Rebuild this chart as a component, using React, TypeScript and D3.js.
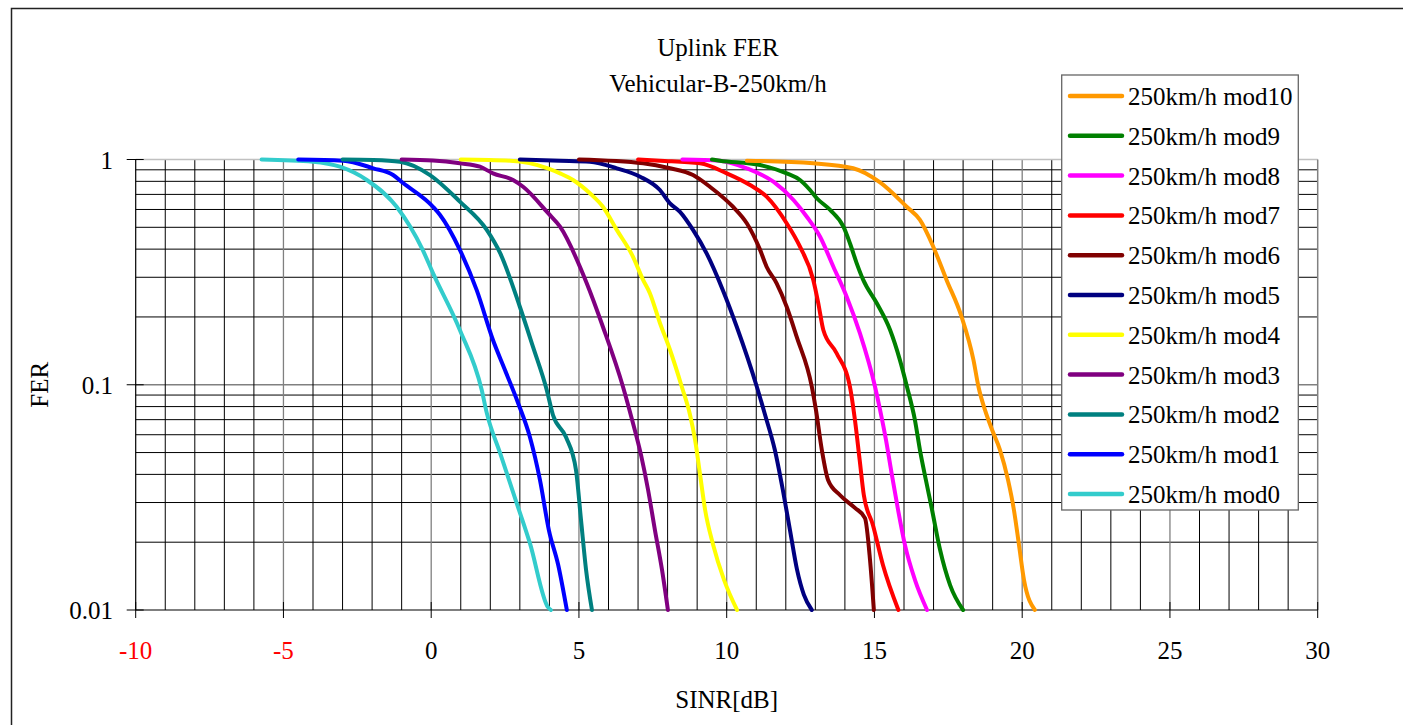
import React from 'react';
import * as d3 from 'd3';

const titleLines = ['Uplink FER', 'Vehicular-B-250km/h'];
const xTicks = [-10, -5, 0, 5, 10, 15, 20, 25, 30];
const yTicks = [1, 0.1, 0.01];

const seriesNames = [
  '250km/h mod10', '250km/h mod9', '250km/h mod8', '250km/h mod7', '250km/h mod6', '250km/h mod5',
  '250km/h mod4', '250km/h mod3', '250km/h mod2', '250km/h mod1', '250km/h mod0',
];
const seriesColors = [
  '#ff9900', '#008000', '#ff00ff', '#ff0000', '#800000', '#000080',
  '#ffff00', '#800080', '#008080', '#0000ff', '#33cccc',
];

// [SINR dB, FER] pairs
const mod0 = [[-5.74, 1], [-4.0, 0.978], [-3.09, 0.929], [-2.18, 0.811], [-1.17, 0.617], [-0.3, 0.4], [0.06, 0.313], [0.97, 0.175], [1.71, 0.0948], [1.88, 0.075], [2.33, 0.0498], [2.89, 0.0299], [3.34, 0.0198], [3.95, 0.0103], [4.05, 0.01]];
const mod1 = [[-4.5, 1], [-2.98, 0.988], [-1.96, 0.914], [-1.29, 0.853], [-0.95, 0.786], [0.06, 0.617], [0.3, 0.567], [0.97, 0.397], [1.54, 0.263], [2.09, 0.158], [2.5, 0.116], [2.94, 0.083], [3.34, 0.0586], [3.68, 0.0378], [3.98, 0.0227], [4.3, 0.0158], [4.59, 0.01]];
const mod2 = [[-3.0, 1], [-1.96, 0.995], [-1.06, 0.978], [-0.04, 0.853], [0.97, 0.65], [1.88, 0.487], [2.33, 0.385], [3.0, 0.222], [3.44, 0.148], [3.91, 0.0948], [4.12, 0.0734], [4.56, 0.0586], [4.9, 0.0418], [5.07, 0.0251], [5.24, 0.0151], [5.44, 0.01]];
const mod3 = [[-1.0, 1], [0.06, 0.99], [0.97, 0.962], [1.65, 0.929], [2.09, 0.868], [2.77, 0.811], [3.11, 0.757], [3.95, 0.579], [4.36, 0.503], [5.26, 0.283], [5.81, 0.181], [6.49, 0.098], [6.8, 0.0697], [7.1, 0.0488], [7.34, 0.0341], [7.57, 0.0227], [7.81, 0.0151], [8.01, 0.01]];
const mod4 = [[1.0, 1], [2.67, 0.988], [3.95, 0.914], [4.36, 0.868], [4.8, 0.811], [5.37, 0.708], [5.81, 0.617], [6.28, 0.487], [6.83, 0.37], [7.17, 0.292], [7.4, 0.255], [7.74, 0.188], [8.08, 0.143], [8.48, 0.098], [8.76, 0.0734], [8.93, 0.0569], [9.1, 0.0398], [9.27, 0.0278], [9.54, 0.0195], [9.91, 0.0136], [10.35, 0.01]];
const mod5 = [[3.0, 1], [4.36, 0.988], [5.37, 0.978], [6.28, 0.914], [7.07, 0.839], [7.74, 0.732], [8.08, 0.639], [8.42, 0.586], [8.86, 0.487], [9.32, 0.383], [9.87, 0.263], [10.34, 0.181], [11.02, 0.098], [11.3, 0.0734], [11.63, 0.0513], [11.9, 0.0341], [12.14, 0.0227], [12.38, 0.0151], [12.61, 0.0117], [12.88, 0.01]];
const mod6 = [[5.0, 1], [7.17, 0.962], [8.08, 0.914], [8.86, 0.853], [9.43, 0.757], [10.21, 0.617], [10.68, 0.521], [11.13, 0.397], [11.35, 0.334], [11.69, 0.282], [12.03, 0.222], [12.37, 0.163], [12.88, 0.098], [13.02, 0.0773], [13.22, 0.0513], [13.43, 0.0378], [13.83, 0.0324], [14.34, 0.0284], [14.68, 0.0256], [14.85, 0.0167], [14.98, 0.01]];
const mod7 = [[7.0, 1], [7.74, 0.988], [9.1, 0.962], [10.0, 0.868], [10.79, 0.77], [11.35, 0.684], [12.03, 0.521], [12.48, 0.41], [12.93, 0.292], [13.1, 0.23], [13.27, 0.175], [13.72, 0.138], [14.17, 0.098], [14.34, 0.0697], [14.5, 0.0463], [14.64, 0.0324], [14.95, 0.0238], [15.29, 0.0158], [15.81, 0.01]];
const mod8 = [[8.5, 1], [9.77, 0.988], [10.68, 0.914], [11.58, 0.797], [12.26, 0.661], [12.71, 0.557], [13.16, 0.454], [13.61, 0.334], [14.06, 0.246], [14.51, 0.169], [15.02, 0.098], [15.19, 0.0773], [15.39, 0.0569], [15.59, 0.0398], [15.8, 0.0278], [16.03, 0.0195], [16.37, 0.0136], [16.78, 0.01]];
const mod9 = [[9.5, 1], [9.77, 0.988], [11.13, 0.945], [12.03, 0.868], [12.48, 0.811], [12.82, 0.732], [13.05, 0.673], [13.5, 0.597], [13.95, 0.503], [14.17, 0.425], [14.4, 0.346], [14.62, 0.292], [15.08, 0.23], [15.53, 0.175], [15.86, 0.129], [16.1, 0.098], [16.37, 0.0697], [16.54, 0.0513], [16.74, 0.0378], [16.95, 0.0278], [17.22, 0.0185], [17.56, 0.0129], [18.0, 0.01]];
const mod10 = [[10.68, 0.988], [12.93, 0.962], [14.28, 0.914], [15.19, 0.791], [16.09, 0.617], [16.54, 0.539], [16.99, 0.41], [17.44, 0.292], [17.95, 0.2], [18.35, 0.129], [18.52, 0.098], [18.74, 0.0773], [18.98, 0.0631], [19.25, 0.0513], [19.52, 0.0378], [19.72, 0.0278], [19.89, 0.0195], [20.06, 0.0136], [20.43, 0.01]];

const seriesData = [mod10, mod9, mod8, mod7, mod6, mod5, mod4, mod3, mod2, mod1, mod0];

const W = 1403;
const H = 725;
const plot = { left: 135.7, right: 1317.7, top: 159.5, bottom: 610 };
const font = '"Liberation Serif", "Times New Roman", serif';
const fs = 25;

export default function App() {
  const x = d3.scaleLinear().domain([-10, 30]).range([plot.left, plot.right]);
  const y = d3.scaleLog().domain([0.01, 1]).range([plot.bottom, plot.top]);

  const line = d3.line<number[]>()
    .x(d => x(d[0]))
    .y(d => y(d[1]))
    .curve(d3.curveMonotoneX);

  const vGrid = d3.range(-9, 30);
  const hGrid: number[] = [];
  [0.01, 0.1].forEach(dec => {
    for (let k = 2; k <= 9; k++) hGrid.push(dec * k);
  });

  const legend = { x: 1061.7, y: 75, w: 236.6, h: 435, first: 96, step: 39.8 };

  return (
    <svg width={W} height={H} style={{ display: 'block', position: 'absolute', left: 0, top: 0 }}>
      <style>{'body{margin:0}'}</style>
      <rect x={0} y={0} width={W} height={H} fill="#fff" />
      <rect x={11.5} y={8.5} width={W} height={H} fill="none" stroke="#222" strokeWidth={1.5} />

      {/* title */}
      {titleLines.map((t, i) => (
        <text key={t} x={718} y={56 + i * 35.7} textAnchor="middle" fontFamily={font} fontSize={fs}>{t}</text>
      ))}

      {/* grid */}
      {hGrid.map(v => (
        <line key={'h' + v} x1={plot.left} x2={plot.right} y1={y(v)} y2={y(v)} stroke="#000" strokeWidth={1} />
      ))}
      <line x1={plot.left} x2={plot.right} y1={y(0.1)} y2={y(0.1)} stroke="#808080" strokeWidth={1.3} />
      {vGrid.map(v => (
        <line key={'v' + v} x1={x(v)} x2={x(v)} y1={plot.top} y2={plot.bottom}
          stroke={v % 5 === 0 ? '#808080' : '#000'} strokeWidth={v % 5 === 0 ? 1.3 : 1} />
      ))}
      <line x1={plot.left} x2={plot.right} y1={plot.top} y2={plot.top} stroke="#c0c0c0" strokeWidth={1.5} />
      <line x1={plot.right} x2={plot.right} y1={plot.top} y2={plot.bottom} stroke="#808080" strokeWidth={1.5} />

      {/* axes */}
      <line x1={plot.left} x2={plot.left} y1={plot.top} y2={plot.bottom} stroke="#000" strokeWidth={1.2} />
      <line x1={plot.left} x2={plot.right} y1={plot.bottom} y2={plot.bottom} stroke="#000" strokeWidth={1.2} />
      {yTicks.map(v => (
        <g key={'yt' + v}>
          <line x1={plot.left - 9} x2={plot.left + 8} y1={y(v)} y2={y(v)} stroke="#000" strokeWidth={1} />
          <text x={113} y={y(v)} dy="0.36em" textAnchor="end" fontFamily={font} fontSize={fs}>{v}</text>
        </g>
      ))}
      {xTicks.map(v => (
        <g key={'xt' + v}>
          <line x1={x(v)} x2={x(v)} y1={plot.bottom - 8} y2={plot.bottom + 8} stroke="#000" strokeWidth={1} />
          <text x={x(v)} y={659} textAnchor="middle" fontFamily={font} fontSize={fs}
            fill={v < 0 ? '#ff0000' : '#000'}>{v}</text>
        </g>
      ))}
      <text transform={`translate(48,${(plot.top + plot.bottom) / 2}) rotate(-90)`} textAnchor="middle"
        fontFamily={font} fontSize={fs}>FER</text>
      <text x={(plot.left + plot.right) / 2} y={707.5} textAnchor="middle" fontFamily={font} fontSize={fs}>SINR[dB]</text>

      {/* curves, drawn mod0 first so higher mods sit on top */}
      {seriesData.map((d, i) => ({ d, i })).reverse().map(({ d, i }) => (
        <path key={seriesNames[i]} d={line(d) || ''} fill="none" stroke={seriesColors[i]}
          strokeWidth={4} strokeLinejoin="round" strokeLinecap="round" />
      ))}

      {/* legend */}
      <rect x={legend.x} y={legend.y} width={legend.w} height={legend.h} fill="#fff" stroke="#666" strokeWidth={1.3} />
      {seriesNames.map((n, i) => {
        const cy = legend.first + i * legend.step;
        return (
          <g key={'lg' + n}>
            <line x1={1070} x2={1122} y1={cy} y2={cy} stroke={seriesColors[i]} strokeWidth={4.5} strokeLinecap="round" />
            <text x={1128} y={cy} dy="0.36em" fontFamily={font} fontSize={fs}>{n}</text>
          </g>
        );
      })}
    </svg>
  );
}
